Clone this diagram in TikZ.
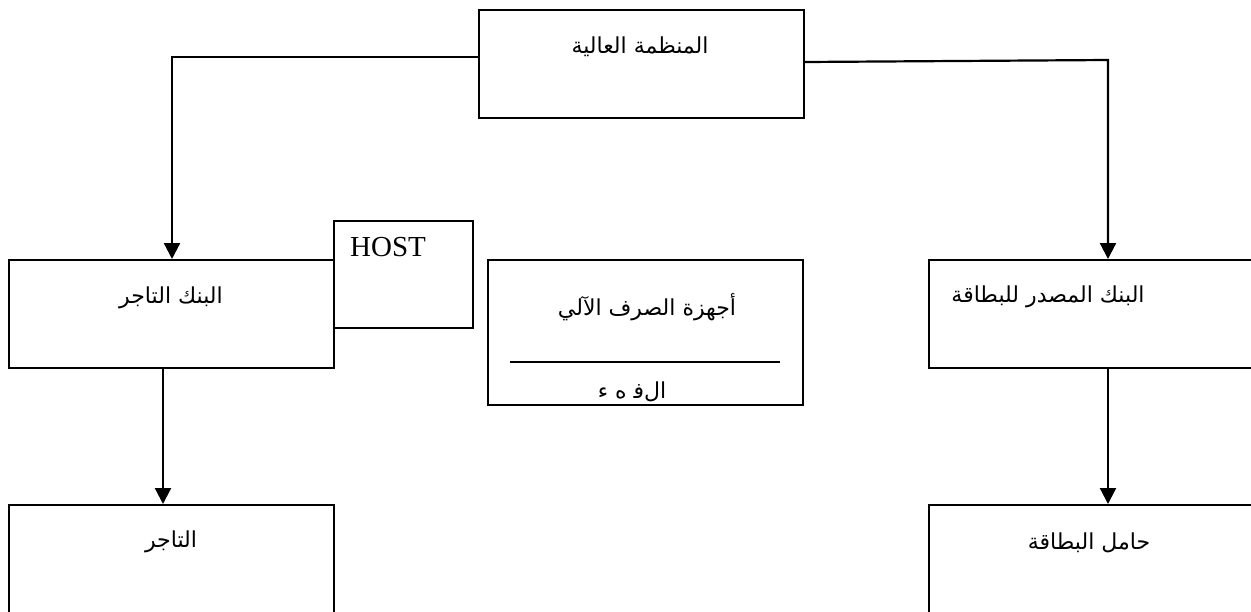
\documentclass[tikz,border=0pt]{standalone}
\usepackage{fontspec}
\setmainfont{Liberation Serif}
\newfontfamily\arabicfont[Script=Arabic]{DejaVu Sans}
\TeXXeTstate=1
\usetikzlibrary{arrows.meta}
\begin{document}
\begin{tikzpicture}[x=1pt,y=-1pt,
  box/.style={draw, line width=1.9pt, rectangle, inner sep=0pt, anchor=north west},
  ar/.style={font=\arabicfont\fontsize{22}{26}\selectfont, inner sep=0pt},
  link/.style={line width=2.2pt},
  arrowlink/.style={link, -{Triangle[width=16pt,length=16pt]}}]
  \useasboundingbox (0,0) rectangle (1251,611);
  \clip (0,0) rectangle (1251,611);

  % boxes
  \node[box, minimum width=325pt, minimum height=108pt] (top) at (478,9) {};
  \node[box, minimum width=325pt, minimum height=108pt] (merchbank) at (8,259) {};
  \node[box, minimum width=139pt, minimum height=107pt] (host) at (333,220) {};
  \node[box, minimum width=315pt, minimum height=145pt] (atm) at (487,259) {};
  \node[box, minimum width=360pt, minimum height=108pt] (issuer) at (928,259) {};
  \node[box, minimum width=325pt, minimum height=130pt] (merchant) at (8,504) {};
  \node[box, minimum width=360pt, minimum height=130pt] (holder) at (928,504) {};

  % labels
  \node[ar] (topT) at (640,47) {\beginR المنظمة العالية\endR};
  \node[ar] (merchbankT) at (171,298) {\beginR البنك التاجر\endR};
  \node[inner sep=0pt, font=\fontsize{29}{32}\selectfont] (hostT) at (388,247) {HOST};
  \node[ar] (atmT) at (647,307) {\beginR أجهزة الصرف الآلي\endR};
  \node[ar] (atmT2) at (632,392) {\beginR الﻓ ه ء\endR};
  \node[ar] (issuerT) at (1048,297) {\beginR البنك المصدر للبطاقة\endR};
  \node[ar] (merchantT) at (171,542) {\beginR التاجر\endR};
  \node[ar] (holderT) at (1089,543) {\beginR حامل البطاقة\endR};

  % rule inside the ATM box
  \coordinate (ruleL) at (510,362);
  \coordinate (ruleR) at (780,362);
  \draw[line width=1.9pt] (ruleL) -- (ruleR);

  % connectors
  \draw[arrowlink] (top.west |- 0,57) -- (172,57) -- (172,259);
  \draw[arrowlink] (top.east |- 0,62) -- (1108,60) -- (1108,259);
  \draw[arrowlink] (163,367) -- (163,504);
  \draw[arrowlink] (1108,367) -- (1108,504);
\end{tikzpicture}
\end{document}
